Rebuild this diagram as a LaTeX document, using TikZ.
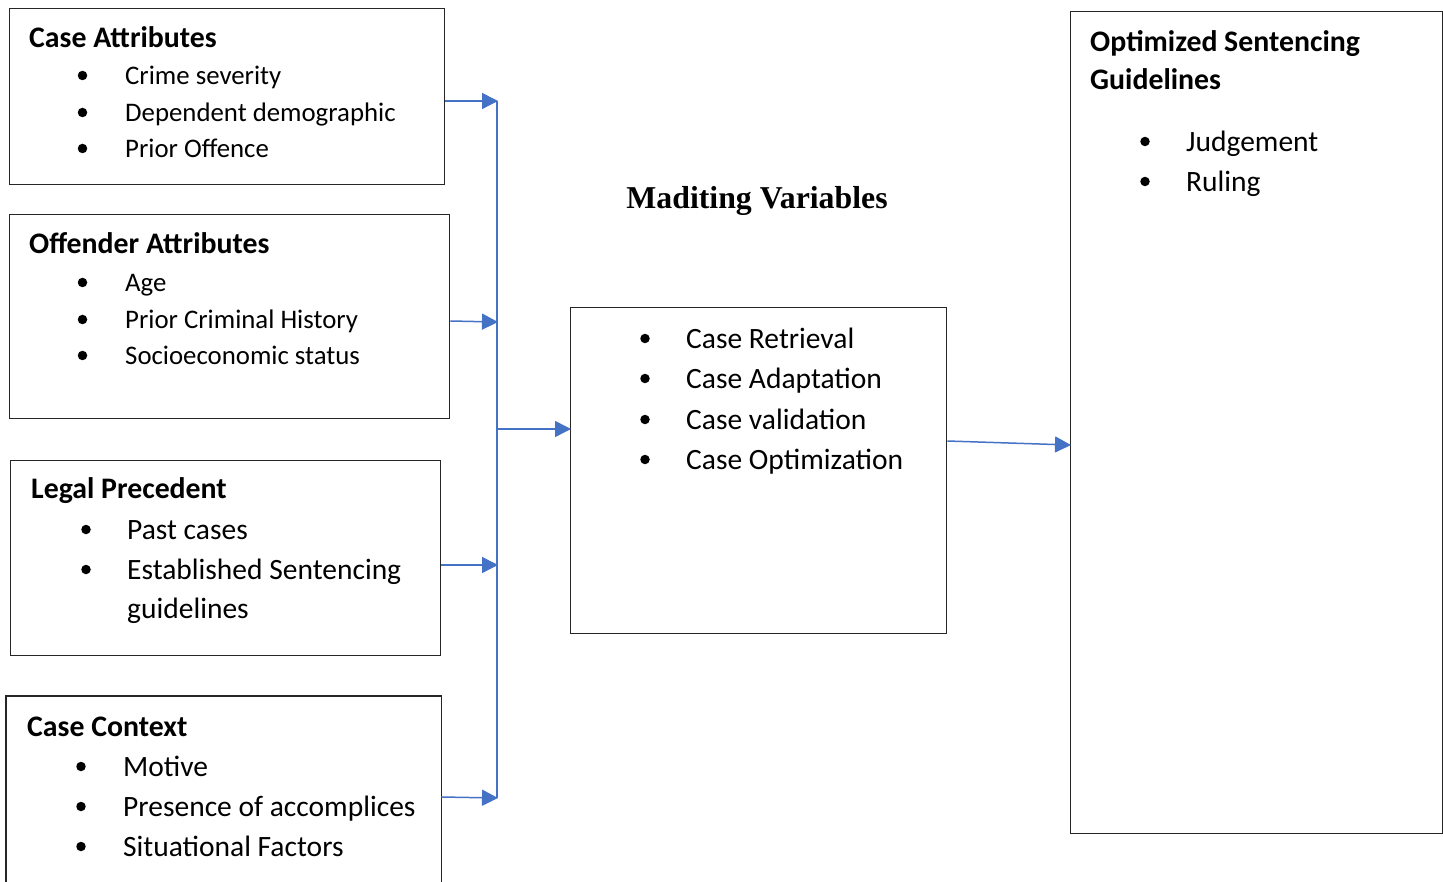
\documentclass[tikz,border=0pt]{standalone}
\usepackage{fontspec}
\setmainfont{Carlito}
\newfontfamily\titleserif{Liberation Serif}
\usetikzlibrary{arrows.meta}
\definecolor{linkblue}{HTML}{4472C4}

% font sizes (one unit = 1pt)
\newcommand\smallitemfont{\fontsize{26.8}{32}\selectfont}
\newcommand\itemfont{\fontsize{29.5}{35}\selectfont}
\newcommand\headfont{\fontsize{29.8}{35}\selectfont\bfseries}

\begin{document}
\begin{tikzpicture}[x=1pt,y=-1pt,
  panel/.style={draw=black!85, line width=1.3pt, anchor=north west, inner sep=0pt},
  openpanel/.style={draw=none, anchor=north west, inner sep=0pt},
  label/.style={anchor=base west, inner sep=0pt},
  dot/.style={circle, fill=black, inner sep=0pt, minimum size=9.5pt},
  link/.style={draw=linkblue, line width=1.5pt},
  flow/.style={link, -{Triangle[length=16pt,width=16pt]}, shorten >=-1pt}
]
\useasboundingbox (0,0) rectangle (1443,882);

% ---- boxes ----
\node[panel, minimum width=435pt, minimum height=176pt] (ca) at (9,8) {};
\node[panel, minimum width=440pt, minimum height=204pt] (oa) at (9,214) {};
\node[panel, minimum width=430pt, minimum height=195pt] (lp) at (10,460) {};
\node[openpanel, minimum width=435pt, minimum height=192pt] (cc) at (6,696) {};
\draw[draw=black!85, line width=1.3pt] (cc.south west) -- (cc.north west) -- (cc.north east) -- (cc.south east);
\node[panel, minimum width=376pt, minimum height=326pt] (mv) at (570,307) {};
\node[panel, minimum width=372pt, minimum height=822pt] (og) at (1070,11) {};

% ---- Case Attributes ----
\node[label] (caH) at (29,47.5) {\headfont Case Attributes};
\node[dot] (caB1) at (82.5,75.5) {};
\node[label] (ca1) at (125,85) {\smallitemfont Crime severity};
\node[dot] (caB2) at (82.5,112.5) {};
\node[label] (ca2) at (125,122) {\smallitemfont Dependent demographic};
\node[dot] (caB3) at (82.5,148.5) {};
\node[label] (ca3) at (125,158) {\smallitemfont Prior Offence};

% ---- Offender Attributes ----
\node[label] (oaH) at (29,253.5) {\headfont Offender Attributes};
\node[dot] (oaB1) at (82.5,282.5) {};
\node[label] (oa1) at (125,292) {\smallitemfont Age};
\node[dot] (oaB2) at (82.5,319.5) {};
\node[label] (oa2) at (125,329) {\smallitemfont Prior Criminal History};
\node[dot] (oaB3) at (82.5,355.5) {};
\node[label] (oa3) at (125,365) {\smallitemfont Socioeconomic status};

% ---- Legal Precedent ----
\node[label] (lpH) at (31,498.5) {\headfont Legal Precedent};
\node[dot] (lpB1) at (86,529.5) {};
\node[label] (lp1) at (127,539.5) {\itemfont Past cases};
\node[dot] (lpB2) at (86,569.5) {};
\node[label] (lp2) at (127,579.5) {\itemfont Established Sentencing};
\node[label] (lp3) at (127,618.5) {\itemfont guidelines};

% ---- Case Context ----
\node[label] (ccH) at (27,736.5) {\headfont Case Context};
\node[dot] (ccB1) at (81,766.5) {};
\node[label] (cc1) at (123,776.5) {\itemfont Motive};
\node[dot] (ccB2) at (81,806.5) {};
\node[label] (cc2) at (123,816.5) {\itemfont Presence of accomplices};
\node[dot] (ccB3) at (81,846.5) {};
\node[label] (cc3) at (123,856.5) {\itemfont Situational Factors};

% ---- mediating variables ----
\node[anchor=base, inner sep=0pt] (mvT) at (757,208.5) {\titleserif\fontsize{31.8}{38}\selectfont\bfseries Maditing Variables};
\node[dot] (mvB1) at (645,338.5) {};
\node[label] (mv1) at (686,348.5) {\itemfont Case Retrieval};
\node[dot] (mvB2) at (645,378.5) {};
\node[label] (mv2) at (686,388.5) {\itemfont Case Adaptation};
\node[dot] (mvB3) at (645,419.5) {};
\node[label] (mv3) at (686,429.5) {\itemfont Case validation};
\node[dot] (mvB4) at (645,459.5) {};
\node[label] (mv4) at (686,469.5) {\itemfont Case Optimization};

% ---- outcome ----
\node[label] (ogH1) at (1090,51.5) {\headfont Optimized Sentencing};
\node[label] (ogH2) at (1090,89.5) {\headfont Guidelines};
\node[dot] (ogB1) at (1145,141.5) {};
\node[label] (og1) at (1186,151.5) {\itemfont Judgement};
\node[dot] (ogB2) at (1145,181.5) {};
\node[label] (og2) at (1186,191.5) {\itemfont Ruling};

% ---- connectors ----
\coordinate (busTop) at (497,101);
\coordinate (busBot) at (497,798);
\coordinate (busMid) at (497,429);
\draw[link] (busTop) -- (busBot);
\draw[flow] (ca.east |- 0,101) -- (busTop);
\draw[flow] (oa.east |- 0,321) -- (497,322);
\draw[flow] (lp.east |- 0,565) -- (497,565);
\draw[flow] (cc.east |- 0,797) -- (busBot);
\draw[flow] (busMid) -- (mv.west |- busMid);
\draw[flow] (mv.east |- 0,441) -- (og.west |- 0,445);
\end{tikzpicture}
\end{document}
